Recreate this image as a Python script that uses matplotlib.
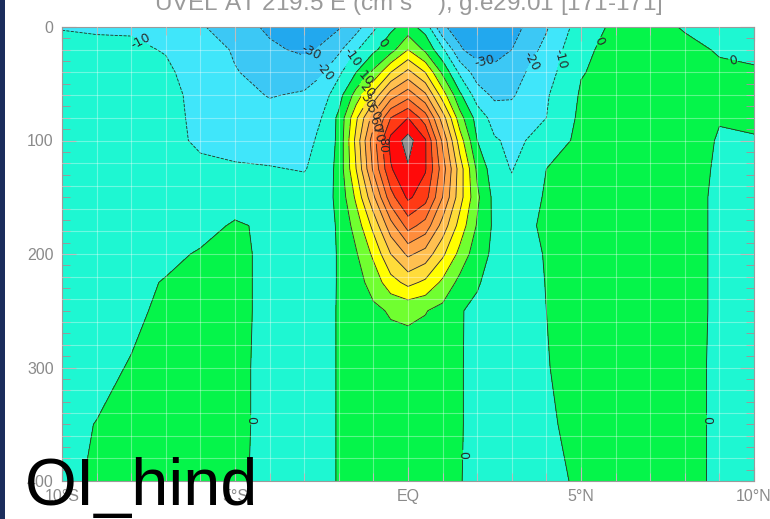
## UVEL section at 219.5E : latitude vs depth ##

import matplotlib
matplotlib.use("Agg")
import matplotlib.pyplot as plt
from matplotlib.patches import Rectangle
from matplotlib.ticker import MultipleLocator, FixedLocator
import numpy as np

## values (cm/s) ##
lats = [-10, -9, -8, -7, -6, -5, -4, -3, -2.5, -2, -1.5, -1, -0.5, 0,
        0.5, 1, 1.5, 2, 2.5, 3, 4, 5, 6, 7, 8, 9, 10]
depths = [0, 20, 40, 60, 80, 100, 125, 150, 175, 200, 225, 250, 300, 350, 400]

u_0   = [-10.5, -11, -11, -12, -19, -25, -32, -34, -33, -31, -24, -12, -2, 4, -4, -29, -33, -36, -37, -34, -21, -5, 2, 2, -0.5, -2, -3]
u_20  = [-7, -8, -8.5, -10.5, -15, -21, -28, -32, -29, -22, -11, -2, 6, 20, 8, -8, -29, -34, -34, -30, -17, -2, 3, 3, 1.5, -0.5, -1]
u_40  = [-5, -6, -7, -8.5, -14, -19.5, -23, -24, -21, -12, 0, 12, 30, 43, 30, 8, -12, -25, -27, -24, -14, -0.5, 3, 4, 3, 1, 0.5]
u_60  = [-4, -5, -6, -8, -12, -17, -20.5, -19, -15, -4, 14, 33, 55, 66, 52, 25, 2, -15, -22, -21, -11, 1, 3, 4, 4, 2, 1]
u_80  = [-3.5, -4.5, -6, -8, -11.5, -15, -17, -15, -10, 2, 28, 55, 80, 90, 75, 45, 14, -4, -14, -16, -10, 2, 4, 4, 4, 0.3, 0.5]
u_100 = [-3, -4, -5.5, -8.5, -10.8, -13, -14, -13, -8, 2, 33, 66, 93, 104, 91, 58, 25, 0, -9, -12, -7, 3, 4, 4, 3, -0.5, -0.2]
u_125 = [-3, -3.5, -5, -7.5, -9, -9, -9.5, -10.5, -7, 3, 30, 62, 89, 99, 91, 65, 35, 8, -6, -10.5, 0, 3, 4, 4, 3, -1, -1.5]
u_150 = [-3, -3, -4, -5, -5, -4, -5, -6, -4, 2, 22, 48, 76, 92, 84, 60, 34, 12, -3, -7, 1, 3, 4, 4, 3, -1.5, -2]
u_175 = [-3, -3, -3.5, -4, -3, 1, -1.5, -4, -4, 1, 14, 33, 56, 74, 66, 46, 26, 9, -2, -5, 2, 3, 4, 4, 3, -1.5, -2]
u_200 = [-2.5, -2.5, -3, -2, 0.8, 3, -3, -3.5, -3, 0.5, 9, 22, 40, 52, 46, 32, 17, 4, -2, -4, 0.5, 3, 4, 4, 3, -1.5, -2]
u_225 = [-2.5, -2, -2, 0.5, 3, 3, -3, -3.5, -3, 0.5, 6, 14, 26, 33, 28, 18, 7, 0.5, -2, -4, 0.2, 3, 4, 4, 3, -1.5, -2]
u_250 = [-2, -1.5, -1, 1, 3, 3, -3, -3.5, -2.5, 0.5, 4, 8, 11, 12, 10.5, 7, 0.3, -1, -2.5, -3.5, 0, 3, 4, 4, 3, -1.5, -2]
u_300 = [-1.5, -1.2, 0.3, 2.5, 3, 2.5, -3, -3.5, -2.5, 0.5, 3, 4, 4.5, 4.5, 4, 3, 0.5, -2, -3, -3.5, -0.3, 2.5, 3.5, 3.5, 2.5, -1.5, -2]
u_350 = [-1, 0.1, 1.5, 2.5, 3, 2.5, -3, -3.5, -2.5, 0.5, 2.5, 3, 3, 3, 3, 2.5, 0.5, -2, -3, -3.5, -1, 2, 3, 3.5, 2.5, -1.5, -2]
u_400 = [-1, 0.6, 2, 2.5, 3, 2, -3, -3.5, -2.5, 0.5, 2.5, 3, 3, 3, 2.5, 2, 0.3, -2, -3, -3.5, -1.5, 0.8, 3, 3, 2.5, -1.5, -2]

uvel = np.array([u_0, u_20, u_40, u_60, u_80, u_100, u_125, u_150, u_175,
                 u_200, u_225, u_250, u_300, u_350, u_400])

levels = [-60, -30, -20, -10, 0, 10, 20, 30, 40, 50, 60, 70, 80, 90, 100, 200]
band_colors = ["#22a8ee", "#3cc8f5", "#40e6fa", "#1ef7d2", "#05f54a", "#70ff30",
               "#ffff00", "#ffdc3a", "#ffc050", "#ffa448", "#ff8c3c", "#ff6c2c",
               "#ff3a14", "#ff0a0a", "#8c8c8c"]
line_levels = [-30, -20, -10, 0, 10, 20, 30, 40, 50, 60, 70, 80, 90, 100]

xticks = [-10, -5, 0, 5, 10]
xlabels = ["10\u00b0S", "5\u00b0S", "EQ", "5\u00b0N", "10\u00b0N"]
yticks = [0, 100, 200, 300, 400]

title = "UVEL AT 219.5 E (cm s$^{-1}$), g.e29.01 [171-171]"

## figure ##
fig = plt.figure(figsize=(7.70, 5.19), dpi=100)
fig.patch.set_facecolor("white")
ax = fig.add_axes([62/770, 1 - 481/519, (754-62)/770, (481-27)/519])

X, Y = np.meshgrid(lats, depths)
ax.contourf(X, Y, uvel, levels=levels, colors=band_colors)
cs = ax.contour(X, Y, uvel, levels=line_levels, colors="#2a2a2a", linewidths=0.6)

label_pos = [(-7.75, 13), (-2.83, 20), (-2.3, 42), (-1.55, 28), (-0.66, 16),
             (2.2, 33), (3.5, 29), (4.2, 27), (5.35, 10), (9.45, 22),
             (1.56, 377), (-4.65, 346), (8.75, 346),
             (-1.25, 45), (-1.2, 55), (-1.1, 66), (-1.0, 76), (-0.9, 86),
             (-0.8, 96), (-0.7, 104)]
ax.clabel(cs, fmt="%d", fontsize=9, colors="#2a2a2a", inline=True,
          inline_spacing=1, manual=label_pos)

## faint white grid ##
for lat in range(-9, 10):
    ax.axvline(lat, color="white", lw=0.8, alpha=0.35, zorder=3)
for d in range(20, 400, 20):
    ax.axhline(d, color="white", lw=0.8, alpha=0.35, zorder=3)

ax.set_xlim(-10, 10)
ax.set_ylim(400, 0)

ax.xaxis.set_major_locator(FixedLocator(xticks))
ax.set_xticklabels(xlabels)
ax.xaxis.set_minor_locator(MultipleLocator(1))
ax.yaxis.set_major_locator(FixedLocator(yticks))
ax.yaxis.set_minor_locator(MultipleLocator(10))

ax.tick_params(which="both", direction="in", top=True, right=True,
               color="#9a9a9a", labelcolor="#8a8a8a", labelsize=11.5)
ax.tick_params(which="major", length=10, width=0.8, pad=6)
ax.tick_params(which="minor", length=6, width=0.7)
for lab in ax.get_xticklabels() + ax.get_yticklabels():
    lab.set_family("Liberation Sans")
for s in ax.spines.values():
    s.set_color("#9a9a9a")
    s.set_linewidth(0.8)

## title cut off by the top of the page ##
fig.text(0.53, 1 - 12/519, title, ha="center", va="baseline", fontsize=17.5,
         color="#9a9a9a", family="Liberation Sans")

## dark strip on the left ##
fig.patches.append(Rectangle((0, 0), 5/770, 1, transform=fig.transFigure,
                             facecolor="#1b2d5c", edgecolor="none", zorder=5))

fig.text(25/770, 1 - 505/519, "OI_hind", ha="left", va="baseline",
         fontsize=48, color="black", family="Liberation Sans", zorder=10)

fig.savefig("out.png", dpi=100)
